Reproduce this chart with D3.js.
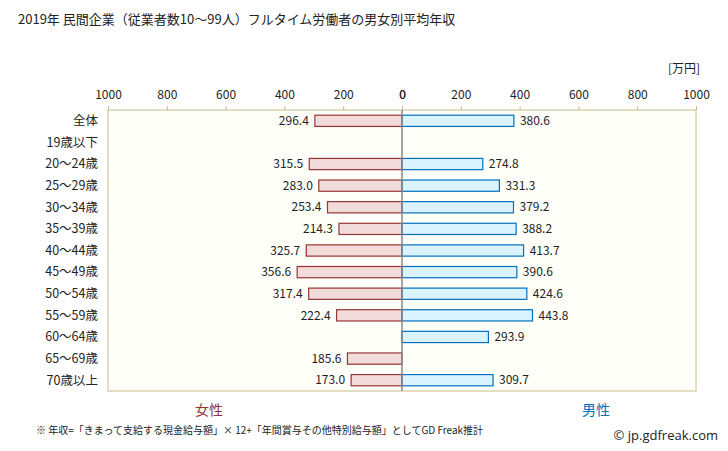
<html>
<body style="margin:0;background:#fff">
<svg id="chart"></svg>
<script src="https://cdn.jsdelivr.net/npm/d3@7"></script>
<script>
var categories = ["全体","19歳以下","20〜24歳","25〜29歳","30〜34歳","35〜39歳","40〜44歳","45〜49歳","50〜54歳","55〜59歳","60〜64歳","65〜69歳","70歳以上"];
var female = [296.4,null,315.5,283.0,253.4,214.3,325.7,356.6,317.4,222.4,null,185.6,173.0];
var male = [380.6,null,274.8,331.3,379.2,388.2,413.7,390.6,424.6,443.8,293.9,null,309.7];
var ticks = [0,200,400,600,800,1000];

var font = "'Noto Sans CJK JP', sans-serif";
var svg = d3.select("#chart").attr("width",728).attr("height",451)
    .style("font-family",font);

var plot = {left:108, right:696, top:110, bottom:391};
var zero = 402;

var xLeft = d3.scaleLinear().domain([0,1000]).range([zero,plot.left]);
var xRight = d3.scaleLinear().domain([0,1000]).range([zero,plot.right]);
var y = d3.scaleBand().domain(categories).range([plot.top,plot.bottom]).paddingInner(0.48).paddingOuter(0.24);

// title
svg.append("text").attr("x",18).attr("y",24).attr("font-size",13).attr("fill","#222")
    .text("2019年 民間企業（従業者数10〜99人）フルタイム労働者の男女別平均年収");
svg.append("text").attr("x",700).attr("y",73).attr("text-anchor","end").attr("font-size",12).attr("fill","#222")
    .text("[万円]");

// plot background
svg.append("rect").attr("x",plot.left).attr("y",plot.top)
    .attr("width",plot.right-plot.left).attr("height",plot.bottom-plot.top)
    .attr("fill","#fffffa").attr("stroke","#c8bc8c");

// axes
var axL = svg.append("g").attr("transform","translate(0,"+plot.top+")")
    .call(d3.axisTop(xLeft).tickValues(ticks).tickSize(4).tickFormat(d3.format("d")));
var axR = svg.append("g").attr("transform","translate(0,"+plot.top+")")
    .call(d3.axisTop(xRight).tickValues(ticks).tickSize(4).tickFormat(d3.format("d")));
[axL,axR].forEach(function(ax){
    ax.select(".domain").remove();
    ax.selectAll("line").attr("stroke","#c8bc8c");
    ax.selectAll("text").attr("font-size",12).attr("fill","#222").attr("font-family",font).attr("dy","-4");
});

// category labels
svg.append("g").selectAll("text").data(categories).enter().append("text")
    .attr("x",98).attr("y",function(d){return y(d)+y.bandwidth()/2;})
    .attr("dy","0.35em").attr("text-anchor","end").attr("font-size",12.5).attr("fill","#222")
    .text(function(d){return d;});

// female bars
var fdata = categories.map(function(c,i){return {c:c,v:female[i]};}).filter(function(d){return d.v!==null;});
var mdata = categories.map(function(c,i){return {c:c,v:male[i]};}).filter(function(d){return d.v!==null;});

svg.append("g").selectAll("rect").data(fdata).enter().append("rect")
    .attr("x",function(d){return xLeft(d.v);}).attr("y",function(d){return y(d.c);})
    .attr("width",function(d){return zero-xLeft(d.v);}).attr("height",y.bandwidth())
    .attr("fill","#f2dcdb").attr("stroke","#993333").attr("stroke-width",1.2);
svg.append("g").selectAll("text").data(fdata).enter().append("text")
    .attr("x",function(d){return xLeft(d.v)-6;}).attr("y",function(d){return y(d.c)+y.bandwidth()/2;})
    .attr("dy","0.35em").attr("text-anchor","end").attr("font-size",12).attr("fill","#222")
    .text(function(d){return d.v.toFixed(1);});

svg.append("g").selectAll("rect").data(mdata).enter().append("rect")
    .attr("x",zero).attr("y",function(d){return y(d.c);})
    .attr("width",function(d){return xRight(d.v)-zero;}).attr("height",y.bandwidth())
    .attr("fill","#dbf3fd").attr("stroke","#0070c0").attr("stroke-width",1.2);
svg.append("g").selectAll("text").data(mdata).enter().append("text")
    .attr("x",function(d){return xRight(d.v)+6;}).attr("y",function(d){return y(d.c)+y.bandwidth()/2;})
    .attr("dy","0.35em").attr("text-anchor","start").attr("font-size",12).attr("fill","#222")
    .text(function(d){return d.v.toFixed(1);});

// zero line
svg.append("line").attr("x1",zero).attr("x2",zero).attr("y1",plot.top).attr("y2",plot.bottom)
    .attr("stroke","#888").attr("stroke-width",1.5);

// legend
svg.append("text").attr("x",209).attr("y",415).attr("text-anchor","middle").attr("font-size",14).attr("fill","#993333").text("女性");
svg.append("text").attr("x",596).attr("y",415).attr("text-anchor","middle").attr("font-size",14).attr("fill","#0070c0").text("男性");

svg.append("text").attr("x",36).attr("y",434).attr("font-size",10).attr("fill","#222")
    .text("※ 年収=「きまって支給する現金給与額」× 12+「年間賞与その他特別給与額」としてGD Freak推計");
svg.append("text").attr("x",718).attr("y",440).attr("text-anchor","end").attr("font-size",13).attr("fill","#222")
    .attr("font-family","'Open Sans', sans-serif").text("© jp.gdfreak.com");
</script>
</body>
</html>
